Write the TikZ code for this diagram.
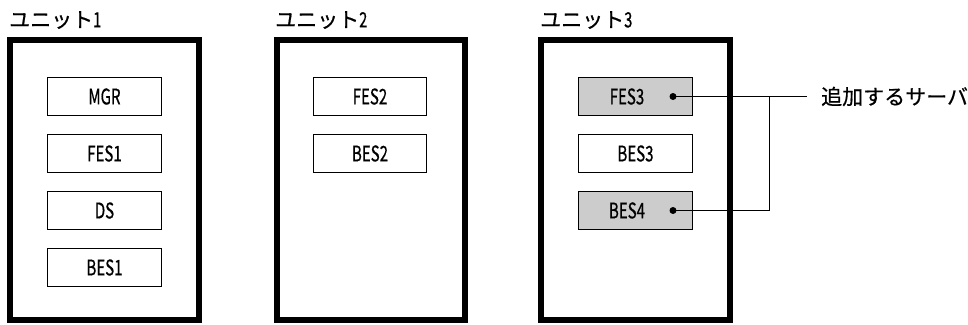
\documentclass[tikz,border=0pt]{standalone}
\usepackage{fontspec}
\setmainfont{Noto Sans CJK JP}[FakeBold=0.6]
\newfontfamily\half{Noto Sans CJK JP}[FakeStretch=0.70,FakeBold=0.6]
\begin{document}
\begin{tikzpicture}[x=1pt,y=-1pt,
  unit/.style={draw, line width=6pt, minimum width=188.5pt, minimum height=280pt, inner sep=0pt},
  srv/.style={draw, line width=1.3pt, minimum width=113.5pt, minimum height=37.5pt, inner sep=0pt},
  added/.style={srv, fill=black!20},
  lbl/.style={inner sep=0pt, font=\half\fontsize{21.5}{21.5}\selectfont},
  ttl/.style={inner sep=0pt, anchor=west, font=\fontsize{21}{21}\selectfont},
  dotn/.style={circle, fill=black, minimum size=7pt, inner sep=0pt},
  conn/.style={line width=1.3pt}]
\useasboundingbox (0,0) rectangle (968,324);
% units
\node[unit] (u1) at (104.25,180) {};
\node[unit] (u2) at (370.75,180) {};
\node[unit] (u3) at (635.5,180) {};
\node[ttl] (t1) at (9,20) {ユニット{\half 1}};
\node[ttl] (t2) at (275,20) {ユニット{\half 2}};
\node[ttl] (t3) at (540,20) {ユニット{\half 3}};
% unit 1
\node[srv] (mgr) at (104.5,96.5) {};
\node[lbl] at (mgr) {MGR};
\node[srv] (fes1) at (104.5,153.5) {};
\node[lbl] at (fes1) {FES1};
\node[srv] (ds) at (104.5,210.5) {};
\node[lbl] at (ds) {DS};
\node[srv] (bes1) at (104.5,267.5) {};
\node[lbl] at (bes1) {BES1};
% unit 2
\node[srv] (fes2) at (370,96.5) {};
\node[lbl] at (fes2) {FES2};
\node[srv] (bes2) at (370,153.5) {};
\node[lbl] at (bes2) {BES2};
% unit 3
\node[added] (fes3) at (635.5,96.5) {};
\node[lbl] at ([xshift=-8.5pt]fes3.center) {FES3};
\node[srv] (bes3) at (635.5,153.5) {};
\node[lbl] at (bes3) {BES3};
\node[added] (bes4) at (635.5,210.5) {};
\node[lbl] at ([xshift=-8.5pt]bes4.center) {BES4};
\node[dotn] (d1) at ([xshift=37.5pt]fes3.center) {};
\node[dotn] (d2) at ([xshift=37.5pt]bes4.center) {};
% connectors
\coordinate (j) at (769.5,96.5);
\coordinate (e) at (807,96.5);
\node[ttl] (add) at (821,96.5) {追加するサーバ};
\draw[conn] (d1.center) -- (j) -- (e);
\draw[conn] (j) |- (d2.center);
\end{tikzpicture}
\end{document}
